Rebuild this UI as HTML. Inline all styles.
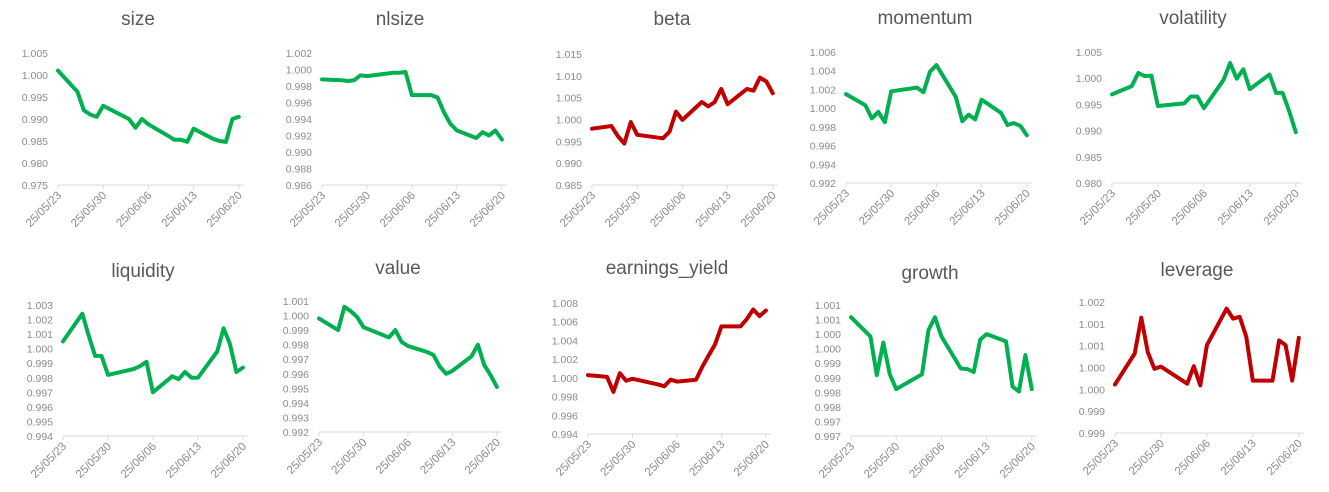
<!DOCTYPE html>
<html><head><meta charset="utf-8"><style>
html,body{margin:0;padding:0;background:#fff;}
svg{display:block;font-family:"Liberation Sans",sans-serif;}
.t{font-size:19px;fill:#595959;text-anchor:middle;}
.yl{font-size:10.5px;fill:#8c8c8c;text-anchor:end;}
.xl{font-size:11.5px;fill:#8c8c8c;text-anchor:end;}
</style></head><body>
<svg id="c" width="1329" height="492" viewBox="0 0 1329 492"></svg>
<script>
const days = [0,3,4,5,6,7,11,12,13,14,17,18,19,20,21,24,25,26,27,28];
const dateTickDays = [0,7,14,21,28];
const dateTickLabels = ["25/05/23","25/05/30","25/06/06","25/06/13","25/06/20"];
const sizeVals = [1.001,0.9962,0.992,0.991,0.9905,0.993,0.990,0.988,0.990,0.9888,0.9862,0.9853,0.9853,0.9848,0.9878,0.9855,0.985,0.9848,0.990,0.9905];
const nlsizeVals = [0.9988,0.9987,0.9986,0.9987,0.9993,0.9992,0.9996,0.9996,0.9997,0.9969,0.9969,0.9966,0.9948,0.9934,0.9926,0.9917,0.9924,0.9920,0.9926,0.9915];
const betaVals = [0.9979,0.9985,0.9962,0.9945,0.9994,0.9965,0.9957,0.9972,1.0018,0.9999,1.004,1.003,1.004,1.007,1.0035,1.007,1.0066,1.0096,1.0087,1.006];
const momentumVals = [1.0015,1.0003,0.9989,0.9996,0.9985,1.0018,1.0022,1.0017,1.0039,1.0046,1.0012,0.9986,0.9993,0.9988,1.0009,0.9995,0.9982,0.9984,0.9981,0.9971];
const volatilityVals = [0.9969,0.9985,1.001,1.0004,1.0005,0.9947,0.9952,0.9965,0.9965,0.9943,0.9997,1.0029,0.9999,1.0017,0.9979,1.0007,0.9972,0.9972,0.9937,0.9897];
const liquidityVals = [1.0005,1.0024,1.0009,0.9995,0.9995,0.9982,0.9986,0.9988,0.9991,0.997,0.9981,0.9979,0.9984,0.998,0.998,0.9998,1.0014,1.0003,0.9984,0.9987];
const valueVals = [0.9998,0.999,1.0006,1.0003,0.9999,0.9992,0.9985,0.999,0.9982,0.9979,0.9975,0.9973,0.9965,0.996,0.9962,0.9972,0.998,0.9966,0.9959,0.9951];
const eyVals = [1.0003,1.0001,0.9985,1.0005,0.9997,0.9999,0.9993,0.9991,0.9998,0.9996,0.9998,1.0012,1.0024,1.0036,1.0055,1.0055,1.0063,1.0073,1.0066,1.0072];
const growthVals = [1.00058,0.99992,0.99859,0.99971,0.99862,0.99811,0.99862,1.00014,1.00058,0.99992,0.99882,0.9988,0.9987,0.99981,1.0,0.99975,0.9982,0.99803,0.99928,0.99811];
const leverageVals = [1.00011,1.00082,1.00164,1.00085,1.00047,1.00052,1.00013,1.00053,1.00009,1.00101,1.00185,1.00162,1.00166,1.0012,1.0002,1.0002,1.00112,1.00101,1.0002,1.00118];
const sizeTicks = ["1.005","1.000","0.995","0.990","0.985","0.980","0.975"];
const nlsizeTicks = ["1.002","1.000","0.998","0.996","0.994","0.992","0.990","0.988","0.986"];
const betaTicks = ["1.015","1.010","1.005","1.000","0.995","0.990","0.985"];
const momentumTicks = ["1.006","1.004","1.002","1.000","0.998","0.996","0.994","0.992"];
const volatilityTicks = ["1.005","1.000","0.995","0.990","0.985","0.980"];
const liquidityTicks = ["1.003","1.002","1.001","1.000","0.999","0.998","0.997","0.996","0.995","0.994"];
const valueTicks = ["1.001","1.000","0.999","0.998","0.997","0.996","0.995","0.994","0.993","0.992"];
const eyTicks = ["1.008","1.006","1.004","1.002","1.000","0.998","0.996","0.994"];
const growthTicks = ["1.001","1.001","1.000","1.000","0.999","0.999","0.998","0.998","0.997","0.997"];
const leverageTicks = ["1.002","1.001","1.001","1.000","1.000","0.999","0.999"];

const G="#00B050", R="#C00000";
const charts = [
 {name:"size",vals:sizeVals,ticks:sizeTicks,max:1.005,min:0.975,x0:58,x1:244,yt:53,yb:185,tx:138,ty:25,c:G},
 {name:"nlsize",vals:nlsizeVals,ticks:nlsizeTicks,max:1.002,min:0.986,x0:322,x1:507,yt:53,yb:185,tx:400,ty:25,c:G},
 {name:"beta",vals:betaVals,ticks:betaTicks,max:1.015,min:0.985,x0:592,x1:778,yt:54,yb:185,tx:672,ty:25,c:R},
 {name:"momentum",vals:momentumVals,ticks:momentumTicks,max:1.006,min:0.992,x0:846,x1:1032,yt:52,yb:183,tx:925,ty:24,c:G},
 {name:"volatility",vals:volatilityVals,ticks:volatilityTicks,max:1.005,min:0.980,x0:1112,x1:1301,yt:52,yb:183,tx:1193,ty:24,c:G},
 {name:"liquidity",vals:liquidityVals,ticks:liquidityTicks,max:1.003,min:0.994,x0:63,x1:248,yt:305,yb:436,tx:143,ty:277,c:G},
 {name:"value",vals:valueVals,ticks:valueTicks,max:1.001,min:0.992,x0:319,x1:502,yt:301,yb:432,tx:398,ty:274,c:G},
 {name:"earnings_yield",vals:eyVals,ticks:eyTicks,max:1.008,min:0.994,x0:588,x1:771,yt:303,yb:434,tx:667,ty:274,c:R},
 {name:"growth",vals:growthVals,ticks:growthTicks,max:1.0010,min:0.9965,x0:851,x1:1037,yt:305,yb:436,tx:930,ty:279,c:G},
 {name:"leverage",vals:leverageVals,ticks:leverageTicks,max:1.002,min:0.999,x0:1115,x1:1304,yt:302,yb:433,tx:1197,ty:276,c:R}
];
const NS="http://www.w3.org/2000/svg";
const svg=document.getElementById("c");
function mk(tag,attrs,parent){const e=document.createElementNS(NS,tag);for(const k in attrs)e.setAttribute(k,attrs[k]);parent.appendChild(e);return e;}
charts.forEach(ch=>{
  const g=mk("g",{},svg);
  
  
  const xs=d=>ch.x0+d*(ch.x1-ch.x0)/28.8;
  const ys=v=>ch.yb-(v-ch.min)/(ch.max-ch.min)*(ch.yb-ch.yt);
  const t=mk("text",{x:ch.tx,y:ch.ty,class:"t"},g);t.textContent=ch.name;
  
  
  const n=ch.ticks.length;
  ch.ticks.forEach((lb,i)=>{
    const y=ch.yt+i*(ch.yb-ch.yt)/(n-1);
    const tt=mk("text",{x:ch.x0-10,y:y+4,class:"yl"},g);tt.textContent=lb;
    
    
  });
  const ax=mk("line",{x1:ch.x0,x2:ch.x1,y1:ch.yb,y2:ch.yb,stroke:"#d9d9d9","stroke-width":1},g);
  
  
  dateTickDays.forEach((d,i)=>{
    const x=xs(d);
    mk("line",{x1:x,x2:x,y1:ch.yb,y2:ch.yb+4,stroke:"#d9d9d9"},g);
    const tx=mk("text",{x:x+4,y:ch.yb+11,class:"xl",transform:`rotate(-45 ${x+4} ${ch.yb+11})`},g);
    tx.textContent=dateTickLabels[i];
    
    
  });
  const pts=ch.vals.map((v,i)=>xs(days[i]).toFixed(1)+","+ys(v).toFixed(1)).join(" ");
  const pl=mk("polyline",{points:pts,fill:"none",stroke:ch.c,"stroke-width":4,"stroke-linejoin":"round","stroke-linecap":"round"},g);
  
  
});
</script>
</body></html>
